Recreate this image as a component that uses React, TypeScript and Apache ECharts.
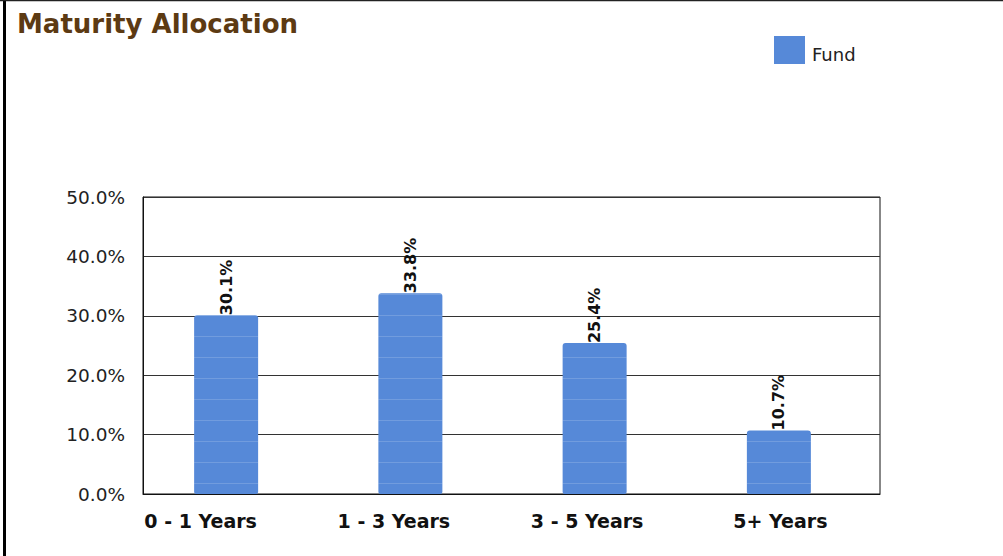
import React, { useEffect, useRef } from "react";
import * as echarts from "echarts";

const categories = ["0 - 1 Years", "1 - 3 Years", "3 - 5 Years", "5+ Years"];
const fundValues = [30.1, 33.8, 25.4, 10.7];
const yTicks = [0, 10, 20, 30, 40, 50];

const FONT = "'DejaVu Sans', Verdana, sans-serif";
const Y_MIN = yTicks[0];
const Y_MAX = yTicks[yTicks.length - 1];

export default function App() {
  const ref = useRef<HTMLDivElement>(null);

  useEffect(() => {
    if (!ref.current) return;
    const chart = echarts.init(ref.current, null, { renderer: "svg" });

    const hiddenValueAxis = (gridIndex: number) => ({
      type: "value",
      gridIndex,
      min: Y_MIN,
      max: Y_MAX,
      interval: 10,
      show: false,
    });

    chart.setOption({
      animation: false,
      backgroundColor: "#ffffff",
      title: {
        text: "Maturity Allocation",
        left: 12,
        top: 6,
        textStyle: { fontFamily: FONT, fontWeight: "bold", fontSize: 26, color: "#5c3a13" },
      },
      legend: {
        data: [{ name: "Fund", itemStyle: { decal: "none" } }],
        left: 774,
        top: 36,
        padding: 0,
        itemWidth: 31,
        itemHeight: 28,
        itemGap: 6,
        icon: "rect",
        formatter: (name: string) => `{t|${name}}`,
        textStyle: {
          fontFamily: FONT,
          fontSize: 18,
          color: "#222",
          rich: {
            t: { fontFamily: FONT, fontSize: 18, color: "#222", padding: [8, 0, 0, 2] },
          },
        },
      },
      graphic: [
        { type: "line", shape: { x1: 4.5, y1: 0, x2: 4.5, y2: 556 }, style: { stroke: "#000", lineWidth: 3 } },
        { type: "line", shape: { x1: 0, y1: 0.5, x2: 1003, y2: 0.5 }, style: { stroke: "#222", lineWidth: 1.5 } },
      ],
      grid: [
        // plot frame, y axis and gridlines
        { left: 143, right: 123, top: 197, bottom: 62, show: true, borderColor: "#111", borderWidth: 1 },
        // bar band layout
        { left: 134, right: 132, top: 197, bottom: 62 },
        // category label layout
        { left: 104, right: 126, top: 197, bottom: 62 },
      ],
      xAxis: [
        {
          type: "category",
          gridIndex: 0,
          data: categories,
          axisTick: { show: false },
          axisLine: { show: true, lineStyle: { color: "#111", width: 1 } },
          axisLabel: { show: false },
        },
        { type: "category", gridIndex: 1, data: categories, show: false },
        {
          type: "category",
          gridIndex: 2,
          data: categories,
          axisTick: { show: false },
          axisLine: { show: false },
          axisLabel: {
            margin: 17,
            fontFamily: FONT,
            fontWeight: "bold",
            fontSize: 19,
            color: "#111",
          },
        },
      ],
      yAxis: [
        {
          type: "value",
          gridIndex: 0,
          min: Y_MIN,
          max: Y_MAX,
          interval: 10,
          axisLine: { show: true, lineStyle: { color: "#111" } },
          axisTick: { show: false },
          splitLine: { show: true, lineStyle: { color: "#333", width: 1 } },
          axisLabel: {
            margin: 18,
            fontFamily: FONT,
            fontSize: 18.5,
            color: "#222",
            formatter: (v: number) => `${v.toFixed(1)}%`,
          },
        },
        hiddenValueAxis(1),
        hiddenValueAxis(2),
      ],
      series: [
        {
          name: "Fund",
          type: "bar",
          xAxisIndex: 1,
          yAxisIndex: 1,
          data: fundValues,
          barWidth: 64,
          itemStyle: {
            color: "#5689d8",
            borderRadius: [3, 3, 2, 2],
            decal: {
              symbol: "rect",
              symbolSize: 1,
              dashArrayX: [[1, 0]],
              dashArrayY: [1, 20],
              color: "rgba(255,255,255,0.16)",
              rotation: 0,
            },
          },
          label: {
            show: true,
            position: "top",
            rotate: 90,
            align: "left",
            verticalAlign: "middle",
            distance: 0,
            fontFamily: FONT,
            fontWeight: "bold",
            fontSize: 16,
            color: "#111",
            formatter: (p: any) => `${Number(p.value).toFixed(1)}%`,
          },
        },
      ],
    });
    return () => chart.dispose();
  }, []);

  return (
    <div
      ref={ref}
      style={{ position: "fixed", left: 0, top: 0, width: 1003, height: 556 }}
    />
  );
}
